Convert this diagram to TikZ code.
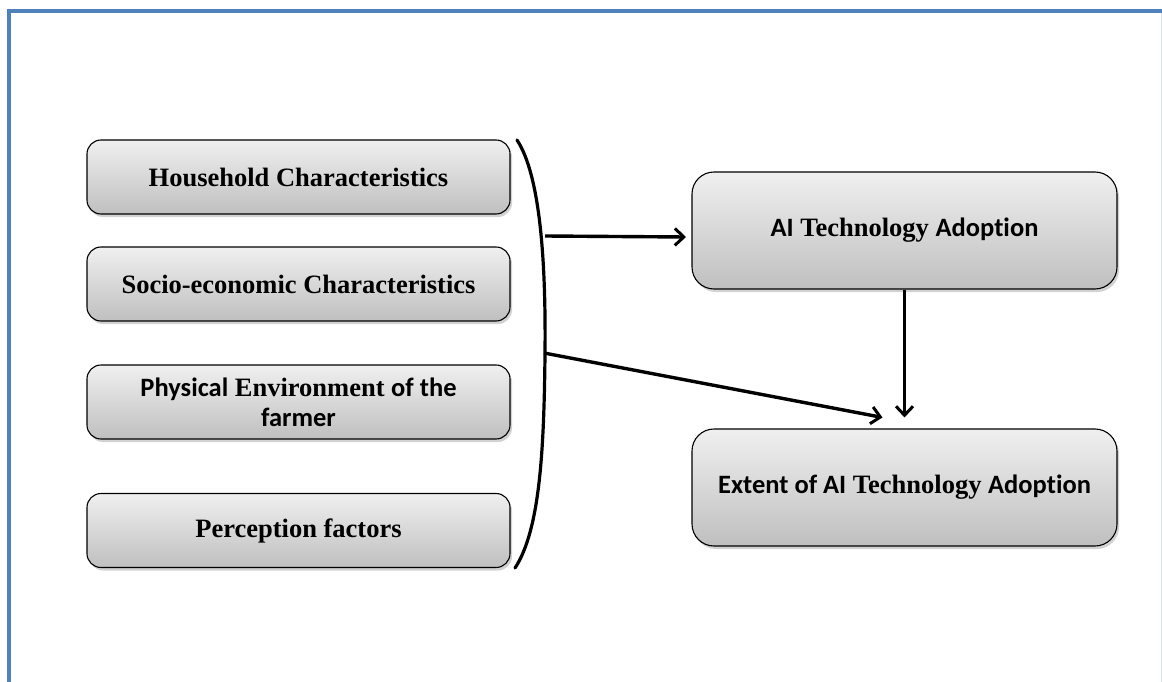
\documentclass[tikz,border=0pt]{standalone}
\usepackage{fontspec}
\setmainfont{Liberation Serif}
\newfontfamily\calfont[RawFeature={-liga;-clig}]{Carlito}
\usetikzlibrary{arrows.meta,shadows,calc}
\definecolor{frameblue}{HTML}{4F81BD}
\begin{document}
\begin{tikzpicture}[x=1pt,y=-1pt,
  box/.style={draw=black,line width=1.1pt,rounded corners=14pt,
    top color=black!6,bottom color=black!25,
    drop shadow={shadow xshift=2pt,shadow yshift=-3pt,opacity=0.35},
    font=\fontsize{26.5}{30}\selectfont\bfseries,align=center,inner sep=0pt},
  lbox/.style={box,minimum width=423pt,minimum height=74pt},
  rbox/.style={box,minimum width=425pt,minimum height=117pt,rounded corners=22pt},
  arr/.style={line width=3.4pt,-{Straight Barb[length=9pt,width=17pt,line width=3pt]}}]
\useasboundingbox (0,0) rectangle (1162,682);
\fill[white] (0,0) rectangle (1162,682);
% frame
\draw[frameblue,line width=4pt] (9,682) -- (9,11.5) -- (1162,11.5);
\draw[frameblue!25,line width=1pt] (1161,13) -- (1161,682);
% left boxes
\node[lbox] (hh) at (298.5,177) {Household Characteristics};
\node[lbox] (se) at (298.5,284) {Socio-economic Characteristics};
\node[lbox] (pe) at (298.5,402) {{\calfont Physical} Environment {\calfont of the}\\{\calfont farmer}};
\node[lbox] (pf) at (298.5,530.5) {Perception factors};
% right boxes
\node[rbox] (ai) at (904.5,230.5) {\raisebox{-3pt}{{\calfont AI} Technology {\calfont Adoption}}};
\node[rbox] (ex) at (904.5,487.5) {\raisebox{-4pt}{{\calfont Extent of AI} Technology {\calfont Adoption}}};
% brace
\draw[line width=3.2pt,line cap=round] (517,140) .. controls (540,175) and (546,260) .. (545,354)
  .. controls (544,450) and (540,530) .. (515,568);
\coordinate (b1) at (545,236);
\coordinate (b2) at (544,353);
\coordinate (t1) at (686,237);
% connectors
\draw[arr] (b1) -- (t1);
\draw[arr] (b2) -- ([xshift=-22pt,yshift=11pt]ex.north);
\draw[arr] (ai.south) -- ([yshift=11pt]ex.north);
\end{tikzpicture}
\end{document}
